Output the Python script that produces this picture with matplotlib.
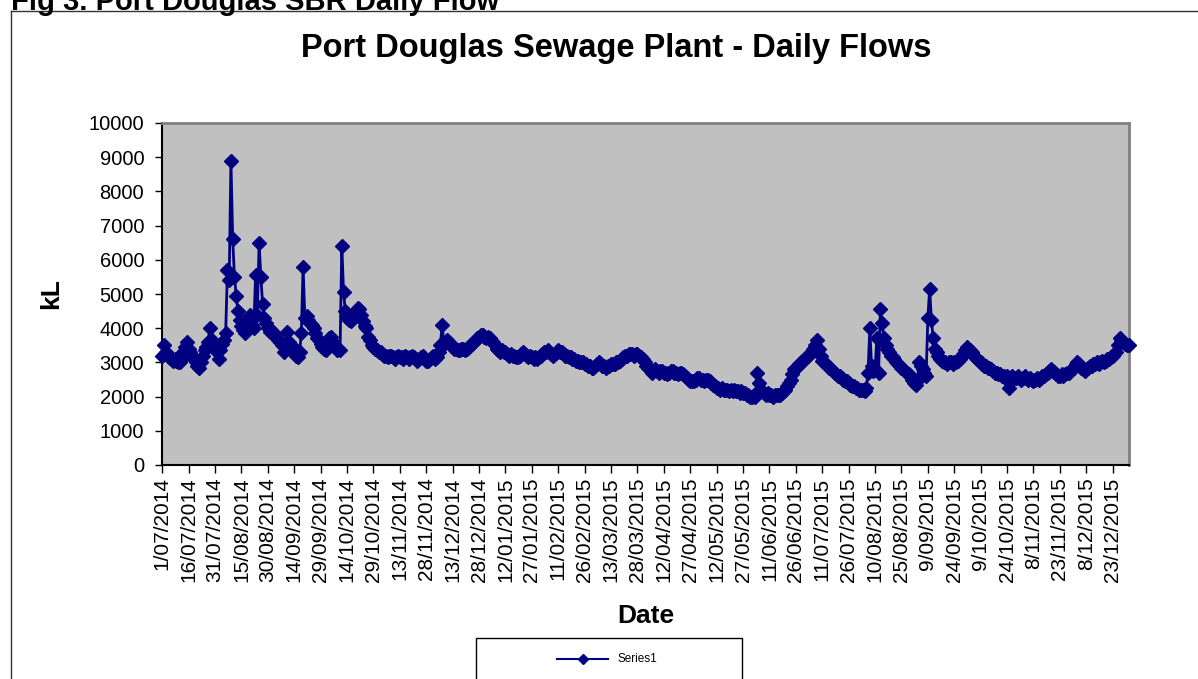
import matplotlib
matplotlib.use("Agg")
import matplotlib.pyplot as plt
from matplotlib.lines import Line2D
from matplotlib.patches import Rectangle
import numpy as np
import pandas as pd

# daily flows (kL), 1/07/2014 .. 1/01/2016
flows_2014_h2 = [
    3200, 3500, 3300, 3200, 3150, 3100, 3050, 3100, 3050, 3000,
    3000, 3100, 3300, 3450, 3600, 3400, 3300, 3200, 3100, 3000,
    2900, 2850, 3000, 3200, 3350, 3450, 3600, 4000, 3650, 3500,
    3450, 3300, 3100, 3350, 3550, 3650, 3850, 5700, 5400, 8900,
    6600, 5500, 4950, 4500, 4250, 4050, 3950, 3850, 4000, 4200,
    4400, 4100, 4000, 5550, 4400, 6500, 5500, 4700, 4300, 4150,
    4000, 3900, 3950, 3900, 3800, 3700, 3650, 3600, 3500, 3300,
    3450, 3900, 3600, 3500, 3450, 3300, 3200, 3150, 3300, 3850,
    5800, 4300, 4350, 4250, 4150, 4100, 4000, 3850, 3700, 3650,
    3550, 3450, 3400, 3350, 3500, 3700, 3750, 3600, 3450, 3350,
    3400, 3350, 6400, 5050, 4500, 4300, 4250, 4200, 4300, 4400,
    4500, 4600, 4550, 4400, 4200, 4050, 4000, 3750, 3650, 3500,
    3450, 3400, 3350, 3300, 3300, 3250, 3200, 3200, 3150, 3200,
    3200, 3150, 3100, 3150, 3200, 3150, 3150, 3100, 3200, 3150,
    3100, 3150, 3200, 3150, 3100, 3050, 3100, 3150, 3200, 3100,
    3050, 3050, 3100, 3150, 3200, 3100, 3150, 3300, 3500, 4100,
    3550, 3600, 3650, 3600, 3500, 3450, 3400, 3380, 3350, 3350,
    3400, 3380, 3350, 3400, 3450, 3500, 3550, 3600, 3650, 3700,
    3750, 3800, 3800, 3750,
]
flows_2015_h1 = [
    3700, 3750, 3700, 3650, 3600, 3500,
    3400, 3350, 3300, 3350, 3300, 3300, 3250, 3200, 3250, 3200,
    3200, 3150, 3150, 3200, 3250, 3300, 3250, 3200, 3150, 3200,
    3150, 3100, 3150, 3100, 3150, 3200, 3250, 3300, 3300, 3350,
    3300, 3250, 3200, 3250, 3300, 3350, 3300, 3300, 3250, 3200,
    3200, 3150, 3150, 3100, 3100, 3050, 3050, 3000, 3000, 3000,
    2950, 2950, 2900, 2900, 2850, 2850, 2900, 2950, 3000, 2950,
    2900, 2900, 2850, 2900, 2900, 2950, 2950, 2950, 3000, 3000,
    3050, 3100, 3150, 3200, 3200, 3250, 3250, 3250, 3200, 3250,
    3250, 3200, 3150, 3100, 3000, 2900, 2850, 2800, 2700, 2750,
    2800, 2750, 2700, 2750, 2750, 2700, 2700, 2650, 2700, 2750,
    2750, 2700, 2700, 2650, 2700, 2700, 2650, 2600, 2550, 2500,
    2450, 2450, 2450, 2500, 2550, 2550, 2500, 2500, 2450, 2500,
    2500, 2450, 2400, 2350, 2300, 2250, 2250, 2200, 2250, 2200,
    2200, 2200, 2150, 2200, 2150, 2200, 2150, 2150, 2100, 2150,
    2100, 2100, 2050, 2050, 2000, 2000, 2050, 2000, 2700, 2400,
    2200, 2150, 2100, 2050, 2100, 2050, 2050, 2000, 2050, 2050,
    2050, 2050, 2100, 2150, 2200, 2300, 2400, 2500, 2650, 2800,
    2850, 2900, 2950, 3000, 3050,
]
flows_2015_h2 = [
    3100, 3150, 3200, 3250, 3300,
    3400, 3500, 3650, 3400, 3200, 3050, 3000, 2950, 2900, 2850,
    2800, 2750, 2700, 2650, 2600, 2600, 2550, 2500, 2450, 2450,
    2400, 2350, 2300, 2300, 2250, 2250, 2200, 2200, 2200, 2150,
    2250, 2700, 4000, 2900, 2750, 2800, 3700, 2700, 4550, 4150,
    3700, 3500, 3400, 3300, 3200, 3150, 3100, 3000, 2950, 2900,
    2850, 2800, 2750, 2700, 2650, 2600, 2500, 2400, 2350, 2450,
    3000, 2900, 2800, 2700, 2600, 4300, 5150, 4250, 3700, 3400,
    3300, 3200, 3100, 3050, 3000, 3000, 2950, 3000, 3000, 2950,
    3000, 3000, 3050, 3100, 3150, 3250, 3350, 3450, 3400, 3350,
    3300, 3200, 3150, 3100, 3050, 3000, 2950, 2900, 2900, 2850,
    2850, 2800, 2750, 2700, 2700, 2650, 2650, 2600, 2600, 2550,
    2600, 2250, 2500, 2600, 2550, 2550, 2600, 2550, 2500, 2550,
    2600, 2550, 2500, 2550, 2500, 2450, 2500, 2550, 2500, 2550,
    2600, 2600, 2650, 2700, 2750, 2800, 2750, 2700, 2650, 2600,
    2600, 2650, 2600, 2650, 2700, 2700, 2750, 2800, 2850, 2950,
    3000, 2950, 2850, 2800, 2750, 2800, 2850, 2900, 2900, 2950,
    2950, 3000, 2950, 3000, 3050, 3000, 3050, 3100, 3100, 3150,
    3200, 3250, 3300, 3500, 3700, 3650, 3600, 3550, 3500,
]
flows_2016 = [3500]

start_date = "2014-07-01"
tick_every = 15

flows = flows_2014_h2 + flows_2015_h1 + flows_2015_h2 + flows_2016
dates = pd.date_range(start_date, periods=len(flows), freq="D")
x = np.arange(len(flows))

plt.rcParams["font.family"] = ["Liberation Sans", "DejaVu Sans"]
W, H = 1198, 679
fig = plt.figure(figsize=(W / 100, H / 100), dpi=100)


def fx(px):
    return px / W


def fy(py):
    return 1 - py / H


navy = "#000080"

ax = fig.add_axes([fx(162.3), fy(465), fx(1128.5) - fx(162.3), fy(123) - fy(465)])
ax.set_facecolor("#c0c0c0")
ax.plot(x, flows, color=navy, lw=2, marker="D", ms=7, mec=navy, mfc=navy, clip_on=False, zorder=3)

ax.set_xlim(0, len(flows) - 1)
ax.set_ylim(0, 10000)
ax.set_yticks(range(0, 10001, 1000))
ax.set_xticks(x[::tick_every])
ax.set_xticklabels([f"{d.day}/{d.month:02d}/{d.year}" for d in dates[::tick_every]], rotation=90, fontsize=15)
ax.tick_params(axis="y", labelsize=14.5, direction="out", length=5, width=1, pad=8)
ax.tick_params(axis="x", direction="out", length=6, width=1, pad=3)

for s in ["left", "bottom"]:
    ax.spines[s].set_color("black")
    ax.spines[s].set_linewidth(1.5)
for s in ["top", "right"]:
    ax.spines[s].set_color("#808080")
    ax.spines[s].set_linewidth(2)

ax.set_ylabel("kL", fontsize=19, fontweight="bold", labelpad=18)
ax.set_xlabel("Date", fontsize=19, fontweight="bold", labelpad=16)

fig.text(fx(616), fy(49), "Port Douglas Sewage Plant - Daily Flows", ha="center", va="center",
         fontsize=23.5, fontweight="bold")
fig.text(fx(11), fy(10), "Fig 3. Port Douglas SBR Daily Flow", ha="left", va="baseline",
         fontsize=21, fontweight="bold")

# chart area border (only left and top are inside the picture)
fig.add_artist(Line2D([fx(10.5), fx(10.5)], [fy(11), 0], color="#333333", lw=1))
fig.add_artist(Line2D([fx(10.5), 1], [fy(11), fy(11)], color="#333333", lw=1))

# legend box
fig.add_artist(Rectangle((fx(476), fy(700)), fx(742) - fx(476), fy(638) - fy(700),
                         fill=False, edgecolor="black", lw=1, transform=fig.transFigure))
fig.add_artist(Line2D([fx(557), fx(583), fx(608)], [fy(659)] * 3, color=navy, lw=1.5,
                      marker="D", ms=5, markevery=[1], mec=navy, mfc=navy))
fig.text(fx(617), fy(659), "Series1", ha="left", va="center", fontsize=8.5)

fig.savefig("out.png", dpi=100)
